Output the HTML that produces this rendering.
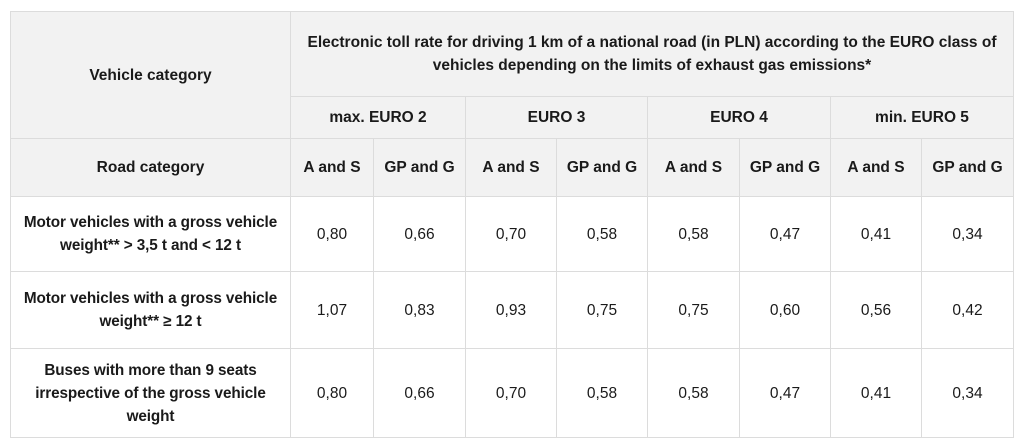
<!DOCTYPE html>
<html><head><meta charset="utf-8"><style>
html,body{margin:0;padding:0;background:#fff;width:1024px;height:448px;overflow:hidden}
table{position:absolute;left:10px;top:11px;border-collapse:collapse;table-layout:fixed;font-family:"Liberation Sans",sans-serif;font-size:15.5px;color:#1a1a1a}
td{border:1.5px solid #dcdcdc;text-align:center;vertical-align:middle;padding:0;line-height:23px;white-space:nowrap}
.h td,td.h{background:#f2f2f2;font-weight:bold}
td.l{font-weight:bold;font-size:15.3px;letter-spacing:-0.1px}
</style></head><body>
<table>
<colgroup><col style="width:280px"><col style="width:83px"><col style="width:92px"><col style="width:91px"><col style="width:91px"><col style="width:92px"><col style="width:91px"><col style="width:91px"><col style="width:92px"></colgroup>
<tr class="h" style="height:85px"><td rowspan="2">Vehicle category</td><td colspan="8">Electronic toll rate for driving 1 km of a national road (in PLN) according to the EURO class of<br>vehicles depending on the limits of exhaust gas emissions*</td></tr>
<tr class="h" style="height:42px"><td colspan="2">max. EURO 2</td><td colspan="2">EURO 3</td><td colspan="2">EURO 4</td><td colspan="2">min. EURO 5</td></tr>
<tr class="h" style="height:58px"><td>Road category</td><td>A and S</td><td>GP and G</td><td>A and S</td><td>GP and G</td><td>A and S</td><td>GP and G</td><td>A and S</td><td>GP and G</td></tr>
<tr style="height:75px"><td class="l">Motor vehicles with a gross vehicle<br>weight** &gt; 3,5 t and &lt; 12 t</td><td>0,80</td><td>0,66</td><td>0,70</td><td>0,58</td><td>0,58</td><td>0,47</td><td>0,41</td><td>0,34</td></tr>
<tr style="height:77px"><td class="l">Motor vehicles with a gross vehicle<br>weight** ≥ 12 t</td><td>1,07</td><td>0,83</td><td>0,93</td><td>0,75</td><td>0,75</td><td>0,60</td><td>0,56</td><td>0,42</td></tr>
<tr style="height:89px"><td class="l">Buses with more than 9 seats<br>irrespective of the gross vehicle<br>weight</td><td>0,80</td><td>0,66</td><td>0,70</td><td>0,58</td><td>0,58</td><td>0,47</td><td>0,41</td><td>0,34</td></tr>
</table>
</body></html>
